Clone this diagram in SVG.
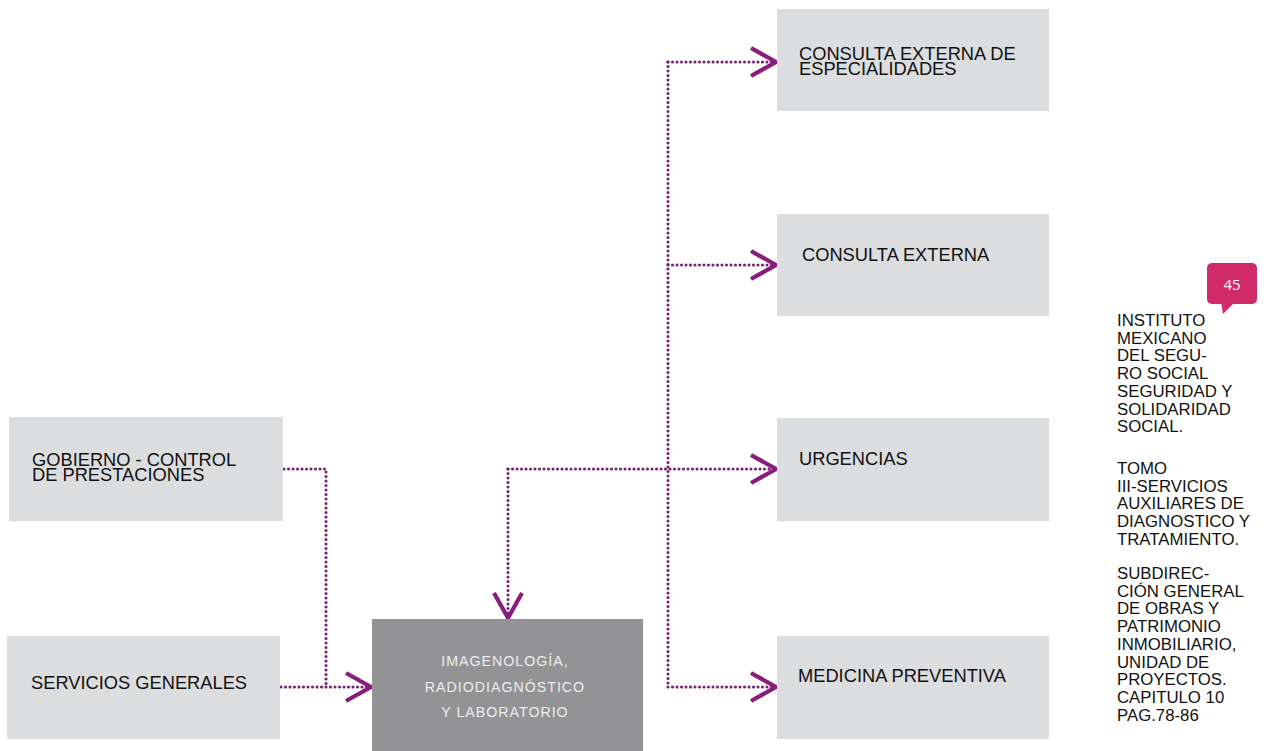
<svg xmlns="http://www.w3.org/2000/svg" width="1266" height="751" viewBox="0 0 1266 751">
<style>
.box{fill:#dcdddf}
.main{fill:#939395}
.lbl{font-family:"Liberation Sans",Arial,sans-serif;font-size:18.3px;fill:#111}
.mlbl{font-family:"Liberation Sans",Arial,sans-serif;font-size:14.2px;fill:#ededed;letter-spacing:1px;text-anchor:middle}
.side{font-family:"Liberation Sans",Arial,sans-serif;font-size:16.8px;fill:#111}
.dot{fill:none;stroke:#7a2270;stroke-width:3.1;stroke-linecap:round;stroke-dasharray:0 4.5}
.arr{marker-end:url(#chev)}
</style>
<defs>
<marker id="chev" viewBox="-4 -4 36 36" markerUnits="userSpaceOnUse" markerWidth="36" markerHeight="36" refX="25" refY="14" orient="auto">
<path d="M0,0 L25,14 L0,28" fill="none" stroke="#8a1d7c" stroke-width="4.2" stroke-linejoin="miter"/>
</marker>
</defs>
<rect width="1266" height="751" fill="#fff"/>

<g id="connectors">
<path class="dot" d="M668,62 V687"/>
<path class="dot arr" d="M668,62 H776"/>
<path class="dot arr" d="M668,265 H776"/>
<path class="dot arr" d="M508,469 H776"/>
<path class="dot arr" d="M668,687 H776"/>
<path class="dot arr" d="M508,469 V618"/>
<path class="dot" d="M284,469 H326 V687"/>
<path class="dot arr" d="M281,687 H371"/>
</g>

<g id="n-consulta-esp">
<rect class="box" x="777" y="9" width="272" height="102"/>
<text class="lbl" x="799" y="60">CONSULTA EXTERNA DE</text>
<text class="lbl" x="799" y="75">ESPECIALIDADES</text>
</g>
<g id="n-consulta">
<rect class="box" x="777" y="214" width="272" height="102"/>
<text class="lbl" x="802" y="261">CONSULTA EXTERNA</text>
</g>
<g id="n-urgencias">
<rect class="box" x="777" y="418" width="272" height="103"/>
<text class="lbl" x="799" y="465">URGENCIAS</text>
</g>
<g id="n-medicina">
<rect class="box" x="777" y="636" width="272" height="103"/>
<text class="lbl" x="798" y="682">MEDICINA PREVENTIVA</text>
</g>
<g id="n-gobierno">
<rect class="box" x="9" y="417" width="274" height="104"/>
<text class="lbl" x="32" y="466">GOBIERNO - CONTROL</text>
<text class="lbl" x="32" y="481">DE PRESTACIONES</text>
</g>
<g id="n-servicios">
<rect class="box" x="7" y="636" width="273" height="103"/>
<text class="lbl" x="31" y="689">SERVICIOS GENERALES</text>
</g>
<g id="n-imagen">
<rect class="main" x="372" y="619" width="271" height="140"/>
<text class="mlbl" x="505" y="666">IMAGENOLOGÍA,</text>
<text class="mlbl" x="505" y="692">RADIODIAGNÓSTICO</text>
<text class="mlbl" x="505" y="717">Y LABORATORIO</text>
</g>

<g id="badge">
<rect x="1207" y="263" width="50" height="41" rx="5" fill="#d02a6b"/>
<path d="M1221,302 L1235,302 L1223,314 Z" fill="#d02a6b"/>
<text x="1232" y="290" font-family="'Open Sans',sans-serif" font-size="15" fill="#fff" text-anchor="middle">45</text>
</g>

<g id="sidebar">
<text class="side" x="1117" y="326">INSTITUTO</text>
<text class="side" x="1117" y="343.7">MEXICANO</text>
<text class="side" x="1117" y="361.4">DEL SEGU-</text>
<text class="side" x="1117" y="379.1">RO SOCIAL</text>
<text class="side" x="1117" y="396.8">SEGURIDAD Y</text>
<text class="side" x="1117" y="414.5">SOLIDARIDAD</text>
<text class="side" x="1117" y="432.2">SOCIAL.</text>
<text class="side" x="1117" y="474">TOMO</text>
<text class="side" x="1117" y="491.7">III-SERVICIOS</text>
<text class="side" x="1117" y="509.4">AUXILIARES DE</text>
<text class="side" x="1117" y="527.1">DIAGNOSTICO Y</text>
<text class="side" x="1117" y="544.8">TRATAMIENTO.</text>
<text class="side" x="1117" y="579">SUBDIREC-</text>
<text class="side" x="1117" y="596.7">CIÓN GENERAL</text>
<text class="side" x="1117" y="614.4">DE OBRAS Y</text>
<text class="side" x="1117" y="632.1">PATRIMONIO</text>
<text class="side" x="1117" y="649.8">INMOBILIARIO,</text>
<text class="side" x="1117" y="667.5">UNIDAD DE</text>
<text class="side" x="1117" y="685.2">PROYECTOS.</text>
<text class="side" x="1117" y="702.9">CAPITULO 10</text>
<text class="side" x="1117" y="720.6">PAG.78-86</text>
</g>
</svg>
